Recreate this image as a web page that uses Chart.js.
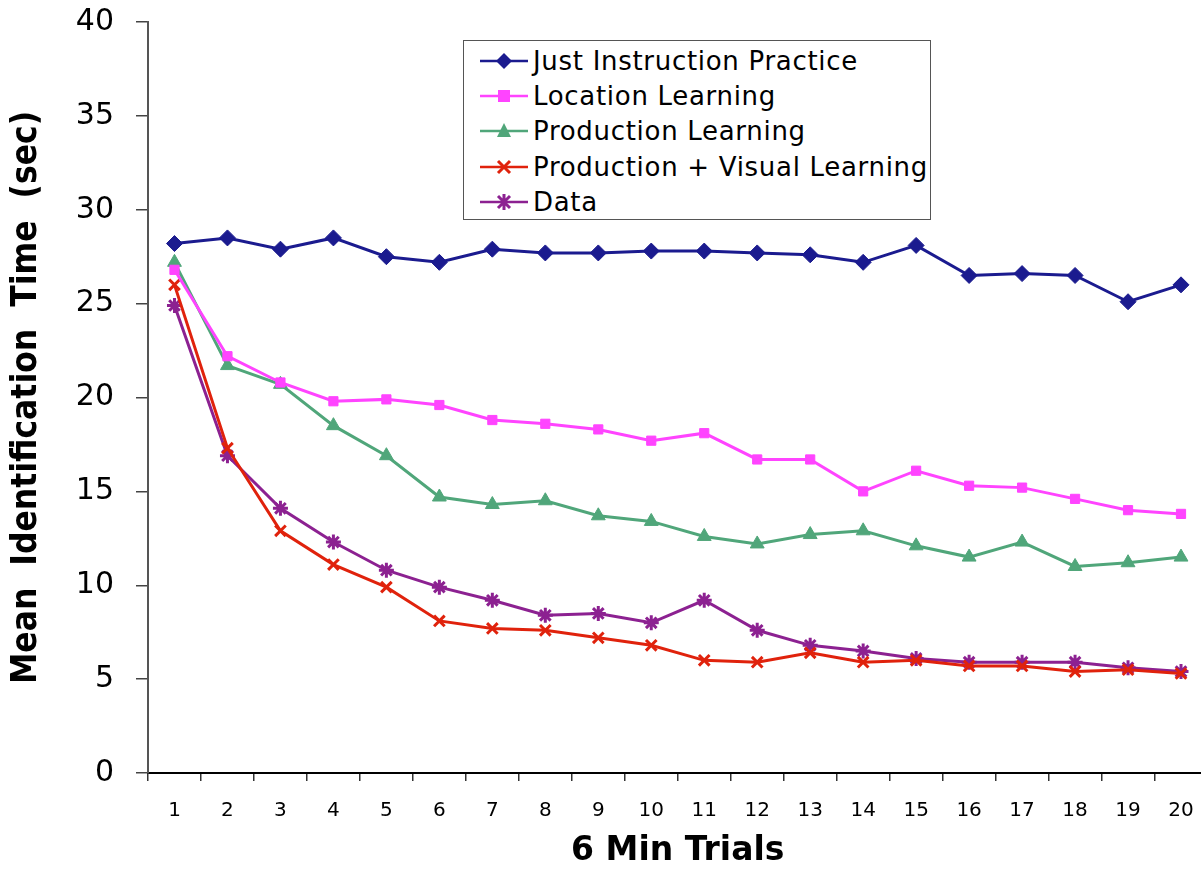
<!DOCTYPE html>
<html>
<head>
<meta charset="utf-8">
<script src="https://cdn.jsdelivr.net/npm/chart.js@4/dist/chart.umd.min.js"></script>
<style>
  html, body { margin: 0; padding: 0; background: #fff; overflow: hidden; }
  #wrap { position: relative; width: 1201px; height: 871px; overflow: hidden; }
  #chart { display: block; }
  #legend {
    position: absolute; left: 463px; top: 40px; width: 468px; height: 180px;
    border: 1.5px solid #555; background: #fff; box-sizing: border-box;
    font-family: "DejaVu Sans", sans-serif; font-size: 26px; letter-spacing: 0.7px; color: #000;
    padding-top: 2px;
  }
  .row { display: flex; align-items: center; height: 35.3px; white-space: nowrap; }
  .row svg { margin-left: 16px; margin-right: 5px; flex: none; }
</style>
</head>
<body>
<div id="wrap">
  <!-- the plot runs slightly past the right edge, like the original -->
  <canvas id="chart" width="1218" height="871"></canvas>
  <div id="legend"></div>
</div>
<script>
const trials = ["1", "2", "3", "4", "5", "6", "7", "8", "9", "10",
  "11", "12", "13", "14", "15", "16", "17", "18", "19", "20"];

const justInstruction = [28.2, 28.5, 27.9, 28.5, 27.5, 27.2, 27.9, 27.7, 27.7, 27.8,
  27.8, 27.7, 27.6, 27.2, 28.1, 26.5, 26.6, 26.5, 25.1, 26.0];
const locationLearning = [26.8, 22.2, 20.8, 19.8, 19.9, 19.6, 18.8, 18.6, 18.3, 17.7,
  18.1, 16.7, 16.7, 15.0, 16.1, 15.3, 15.2, 14.6, 14.0, 13.8];
const productionLearning = [27.2, 21.7, 20.7, 18.5, 16.9, 14.7, 14.3, 14.5, 13.7, 13.4,
  12.6, 12.2, 12.7, 12.9, 12.1, 11.5, 12.3, 11.0, 11.2, 11.5];
const productionVisual = [26.0, 17.3, 12.9, 11.1, 9.9, 8.1, 7.7, 7.6, 7.2, 6.8,
  6.0, 5.9, 6.4, 5.9, 6.0, 5.7, 5.7, 5.4, 5.5, 5.3];
const dataSeries = [24.9, 16.9, 14.1, 12.3, 10.8, 9.9, 9.2, 8.4, 8.5, 8.0,
  9.2, 7.6, 6.8, 6.5, 6.1, 5.9, 5.9, 5.9, 5.6, 5.4];

const yTicks = [0, 5, 10, 15, 20, 25, 30, 35, 40];

const seriesDefs = [
  { label: "Just Instruction Practice", data: justInstruction, color: "#1b1b8f", style: "rectRot", radius: 8 },
  { label: "Location Learning", data: locationLearning, color: "#ff44ff", style: "rect", radius: 6.5 },
  { label: "Production Learning", data: productionLearning, color: "#50a67a", style: "triangle", radius: 8 },
  { label: "Production + Visual Learning", data: productionVisual, color: "#e0220c", style: "crossRot", radius: 7.5 },
  { label: "Data", data: dataSeries, color: "#8c2191", style: "star", radius: 7.5 },
];

const tickFont = "'DejaVu Sans', sans-serif";
const titleFont = "'DejaVu Sans', sans-serif";
const yTitleFont = "'DejaVu Sans Condensed', 'Liberation Sans Narrow', 'Liberation Sans', sans-serif";

new Chart(document.getElementById("chart"), {
  type: "line",
  data: {
    labels: trials,
    datasets: seriesDefs.map((s) => ({
      label: s.label,
      data: s.data,
      borderColor: s.color,
      backgroundColor: s.color,
      pointStyle: s.style,
      pointRadius: s.radius,
      pointBorderColor: s.color,
      pointBackgroundColor: s.color,
      pointBorderWidth: s.style === "crossRot" || s.style === "star" ? 3 : 1,
      borderWidth: 3,
      tension: 0,
      clip: false,
    })),
  },
  options: {
    responsive: false,
    animation: false,
    layout: { padding: { top: 22, right: 0, left: 0, bottom: 0 } },
    plugins: {
      legend: { display: false },
      tooltip: { enabled: false },
    },
    scales: {
      x: {
        offset: true,
        afterFit: (scale) => {
          scale.height = 98;
          scale.paddingLeft = 0;
          scale.paddingRight = 0;
        },
        grid: {
          offset: true,
          drawOnChartArea: false,
          drawTicks: true,
          tickLength: 8,
          color: "#333",
          lineWidth: 1.5,
        },
        border: { display: true, color: "#000", width: 2 },
        ticks: {
          color: "#000",
          padding: 18,
          maxRotation: 0,
          autoSkip: false,
          font: { family: tickFont, size: 20 },
        },
        title: {
          display: true,
          text: "6 Min Trials",
          color: "#000",
          padding: { top: 0, bottom: 0 },
          font: { family: titleFont, size: 33, weight: "bold" },
        },
      },
      y: {
        min: 0,
        max: 40,
        afterFit: (scale) => {
          scale.width = 148;
          scale.paddingTop = 0;
          scale.paddingBottom = 0;
        },
        afterBuildTicks: (scale) => { scale.ticks = yTicks.map((v) => ({ value: v })); },
        grid: {
          drawOnChartArea: false,
          drawTicks: true,
          tickLength: 12,
          color: "#444",
          lineWidth: 1.5,
        },
        border: { display: true, color: "#555", width: 2 },
        ticks: {
          color: "#000",
          padding: 22,
          font: { family: tickFont, size: 30 },
        },
        title: {
          display: true,
          text: "Mean  Identification  Time  (sec)",
          color: "#000",
          padding: { top: 6, bottom: 0 },
          font: { family: yTitleFont, size: 35, weight: "bold" },
        },
      },
    },
  },
});

// legend built from the same series definitions
function markerSvg(s) {
  const c = s.color;
  let m = "";
  if (s.style === "rectRot") m = `<polygon points="24,3 32,11 24,19 16,11" fill="${c}"/>`;
  else if (s.style === "rect") m = `<rect x="18" y="5" width="12" height="12" fill="${c}"/>`;
  else if (s.style === "triangle") m = `<polygon points="24,3 31,17 17,17" fill="${c}"/>`;
  else if (s.style === "crossRot") m = `<path d="M18,5 L30,17 M30,5 L18,17" stroke="${c}" stroke-width="3"/>`;
  else m = `<path d="M18,5 L30,17 M30,5 L18,17 M24,3 L24,19" stroke="${c}" stroke-width="3"/>`;
  return `<svg width="48" height="22" viewBox="0 0 48 22"><line x1="0" y1="11" x2="48" y2="11" stroke="${c}" stroke-width="2.5"/>${m}</svg>`;
}

const legendEl = document.getElementById("legend");
seriesDefs.forEach((s) => {
  const row = document.createElement("div");
  row.className = "row";
  row.innerHTML = markerSvg(s) + `<span>${s.label}</span>`;
  legendEl.appendChild(row);
});
</script>
</body>
</html>
